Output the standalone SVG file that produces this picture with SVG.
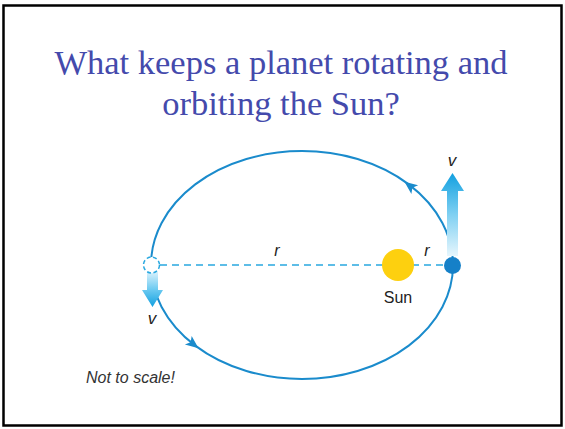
<svg xmlns="http://www.w3.org/2000/svg" width="565" height="429" viewBox="0 0 565 429">
<style>
.title{font-family:"Liberation Serif",serif;font-size:34.5px;fill:#444aac;text-anchor:middle}
.lbl{font-family:"Liberation Sans",Arial,sans-serif;font-size:16px;fill:#222;text-anchor:middle}
.it{font-style:italic}
.orbit{fill:none;stroke:#1a8bcc;stroke-width:2}
.ah{fill:#1a8bcc}
</style>
<defs>
<linearGradient id="gUp" x1="0" y1="1" x2="0" y2="0">
<stop offset="0" stop-color="#e6f6fd"/>
<stop offset="0.5" stop-color="#7fd0f2"/>
<stop offset="1" stop-color="#12a0e0"/>
</linearGradient>
<linearGradient id="gDown" x1="0" y1="0" x2="0" y2="1">
<stop offset="0" stop-color="#d8f1fc"/>
<stop offset="0.5" stop-color="#6ccaf1"/>
<stop offset="1" stop-color="#12a0e0"/>
</linearGradient>
</defs>
<rect x="0" y="0" width="565" height="429" fill="#fff"/>
<rect x="3.5" y="5.5" width="558" height="420" fill="none" stroke="#000" stroke-width="2.5"/>
<g id="title">
<text class="title" x="281" y="74">What keeps a planet rotating and</text>
<text class="title" x="281" y="115">orbiting the Sun?</text>
</g>
<g id="connectors">
<ellipse class="orbit" cx="302" cy="265" rx="151" ry="114"/>
<polygon class="ah" points="7,0 -6,-5.5 -3,0 -6,5.5" transform="translate(410,186) rotate(217.7)"/>
<polygon class="ah" points="7,0 -6,-5.5 -3,0 -6,5.5" transform="translate(193,344) rotate(38.2)"/>
<line x1="160" y1="265" x2="444" y2="265" stroke="#29a8e0" stroke-width="1.5" stroke-dasharray="7,5"/>
</g>
<g id="sun">
<circle cx="398" cy="265" r="16" fill="#fdd00f"/>
<text class="lbl" x="398" y="303">Sun</text>
</g>
<g id="planet-right">
<path d="M447,256 L447,191 L441,191 L452.5,173 L464,191 L458,191 L458,256 Z" fill="url(#gUp)"/>
<circle cx="452.5" cy="265.5" r="8.5" fill="#1580c8"/>
<text class="lbl it" x="452" y="166" style="font-size:17px">v</text>
</g>
<g id="planet-left">
<path d="M147,272 L147,290 L142,290 L152.5,307 L163,290 L158,290 L158,272 Z" fill="url(#gDown)"/>
<circle cx="151.5" cy="265" r="8" fill="#fff" stroke="#29a8e0" stroke-width="1.5" stroke-dasharray="4,2.5"/>
<text class="lbl it" x="152" y="324" style="font-size:17px">v</text>
</g>
<g id="labels">
<text class="lbl it" x="277" y="256">r</text>
<text class="lbl it" x="427" y="256">r</text>
<text class="lbl it" x="86" y="383" style="text-anchor:start;font-size:16px;fill:#333">Not to scale!</text>
</g>
</svg>
